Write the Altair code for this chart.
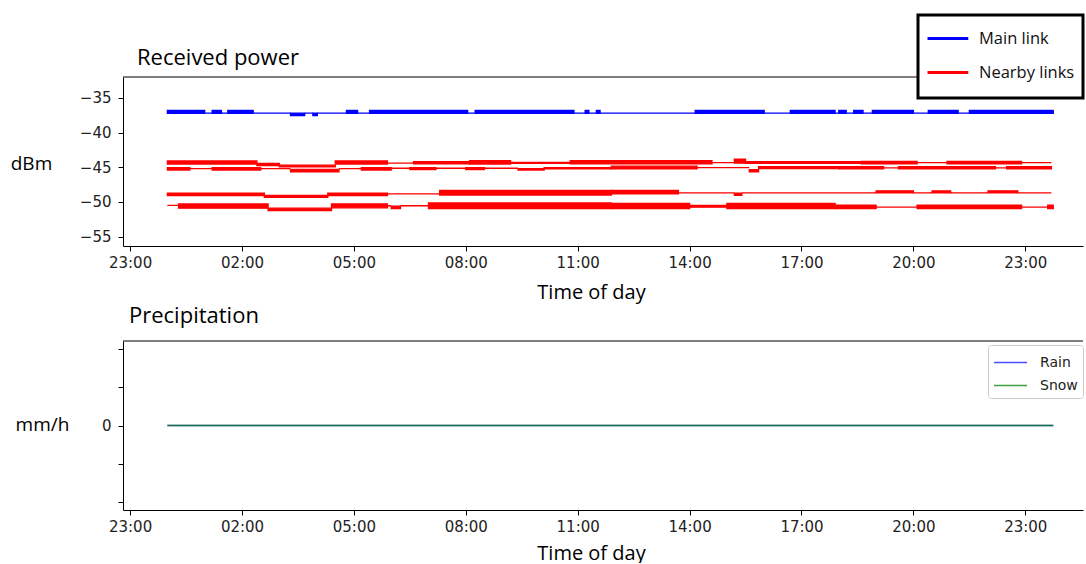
import altair as alt
import pandas as pd

# ---------------- data (hours after midnight, dBm) ----------------
# each entry: [start_hour, end_hour, low_dBm, high_dBm]  (low == high -> steady level)
main_link = [
    [0.00, 1.00, -37.25, -36.80], [1.00, 1.20, -37.20, -37.20], [1.20, 1.45, -37.25, -36.80],
    [1.45, 1.62, -37.20, -37.20], [1.62, 2.30, -37.25, -36.80], [2.30, 3.30, -37.20, -37.20],
    [3.30, 3.68, -37.55, -37.20], [3.68, 3.90, -37.20, -37.20], [3.90, 4.02, -37.55, -37.20],
    [4.02, 4.80, -37.20, -37.20], [4.80, 5.10, -37.25, -36.80], [5.10, 5.42, -37.20, -37.20],
    [5.42, 8.05, -37.25, -36.80], [8.05, 8.25, -37.20, -37.20], [8.25, 10.90, -37.25, -36.80],
    [10.90, 11.20, -37.20, -37.20], [11.20, 11.30, -37.25, -36.80], [11.30, 11.50, -37.20, -37.20],
    [11.50, 11.60, -37.25, -36.80], [11.60, 14.15, -37.20, -37.20], [14.15, 16.00, -37.25, -36.80],
    [16.00, 16.70, -37.20, -37.20], [16.70, 17.90, -37.25, -36.80], [17.90, 18.00, -37.20, -37.20],
    [18.00, 18.20, -37.25, -36.80], [18.20, 18.40, -37.20, -37.20], [18.40, 18.65, -37.25, -36.80],
    [18.65, 18.90, -37.20, -37.20], [18.90, 20.00, -37.25, -36.80], [20.00, 20.40, -37.20, -37.20],
    [20.40, 21.20, -37.25, -36.80], [21.20, 21.50, -37.20, -37.20], [21.50, 23.75, -37.25, -36.80],
]
nearby_1 = [
    [0.00, 2.40, -44.55, -44.10], [2.40, 3.00, -44.75, -44.45], [3.00, 4.50, -44.95, -44.70],
    [4.50, 5.90, -44.55, -44.10], [5.90, 6.60, -44.40, -44.40], [6.60, 8.10, -44.50, -44.20],
    [8.10, 9.20, -44.55, -44.05], [9.20, 10.80, -44.45, -44.30], [10.80, 14.60, -44.50, -44.05],
    [14.60, 15.20, -44.35, -44.35], [15.20, 15.50, -44.40, -43.85], [15.50, 18.60, -44.45, -44.20],
    [18.60, 20.10, -44.50, -44.15], [20.10, 20.90, -44.35, -44.35], [20.90, 22.90, -44.50, -44.15],
    [22.90, 23.70, -44.35, -44.35],
]
nearby_2 = [
    [0.00, 0.60, -45.40, -45.05], [0.60, 1.20, -45.20, -45.20], [1.20, 2.50, -45.40, -45.05],
    [2.50, 3.30, -45.20, -45.20], [3.30, 4.60, -45.65, -45.30], [4.60, 5.20, -45.20, -45.20],
    [5.20, 6.00, -45.40, -45.05], [6.00, 6.50, -45.15, -45.15], [6.50, 7.20, -45.35, -45.05],
    [7.20, 8.00, -45.15, -45.15], [8.00, 8.50, -45.35, -45.05], [8.50, 9.40, -45.15, -45.15],
    [9.40, 10.10, -45.40, -45.20], [10.10, 11.90, -45.25, -45.05], [11.90, 14.20, -45.25, -44.85],
    [14.20, 15.60, -45.05, -45.05], [15.60, 15.85, -45.65, -45.35], [15.85, 18.00, -45.20, -44.90],
    [18.00, 19.20, -45.25, -44.90], [19.20, 19.60, -45.10, -45.10], [19.60, 22.20, -45.25, -44.90],
    [22.20, 22.50, -45.10, -45.10], [22.50, 23.70, -45.25, -44.90],
]
nearby_3 = [
    [0.00, 2.60, -49.10, -48.75], [2.60, 4.30, -49.35, -49.05], [4.30, 5.90, -49.10, -48.75],
    [5.90, 7.30, -48.85, -48.85], [7.30, 11.90, -49.00, -48.35], [11.90, 13.70, -48.85, -48.35],
    [13.70, 15.20, -48.70, -48.70], [15.20, 15.40, -49.05, -48.75], [15.40, 19.00, -48.70, -48.70],
    [19.00, 20.00, -48.70, -48.40], [20.00, 20.50, -48.70, -48.70], [20.50, 21.00, -48.70, -48.40],
    [21.00, 22.00, -48.70, -48.70], [22.00, 22.80, -48.70, -48.40], [22.80, 23.70, -48.70, -48.70],
]
nearby_4 = [
    [0.00, 0.30, -50.50, -50.50], [0.30, 2.70, -50.90, -50.30], [2.70, 4.40, -51.25, -50.90],
    [4.40, 5.90, -50.85, -50.30], [5.90, 6.00, -50.55, -50.55], [6.00, 6.25, -50.95, -50.60],
    [6.25, 7.00, -50.55, -50.55], [7.00, 11.90, -50.95, -50.15], [11.90, 14.00, -50.95, -50.20],
    [14.00, 15.00, -50.75, -50.50], [15.00, 17.90, -50.95, -50.20], [17.90, 19.00, -50.95, -50.45],
    [19.00, 20.10, -50.75, -50.75], [20.10, 22.90, -50.95, -50.45], [22.90, 23.60, -50.75, -50.75],
    [23.60, 23.75, -50.95, -50.45],
]

precip_hours = [0.0, 3.0, 6.0, 9.0, 12.0, 15.0, 18.0, 21.0, 23.75]
rain_mmh = [0, 0, 0, 0, 0, 0, 0, 0, 0]
snow_mmh = [0, 0, 0, 0, 0, 0, 0, 0, 0]

tick_hours = [-1, 2, 5, 8, 11, 14, 17, 20, 23]
power_ticks = [-55, -50, -45, -40, -35]
precip_ticks = [-0.04, -0.02, 0, 0.02, 0.04]

# ---------------- tables ----------------
rows = []
for name, seg_list in [("Main link", main_link), ("Nearby links", nearby_1),
                       ("Nearby links", nearby_2), ("Nearby links", nearby_3),
                       ("Nearby links", nearby_4)]:
    for s, e, lo, hi in seg_list:
        rows.append({"link": name, "t0": s, "t1": e, "lo": lo, "hi": hi})
power = pd.DataFrame(rows)

prows = []
for h, r, s in zip(precip_hours, rain_mmh, snow_mmh):
    prows.append({"hour": h, "kind": "Rain", "mmh": r})
    prows.append({"hour": h, "kind": "Snow", "mmh": s})
precip = pd.DataFrame(prows)

# ---------------- styling ----------------
W = 960
H = 169
X_DOMAIN = [-1.19, -1.19 + W / 37.3]
TITLE_FONT = "Open Sans"
TICK_FONT = "DejaVu Sans"
TICK_SIZE = 15

label_expr = ("(((datum.value % 24) + 24) % 24 < 10 ? '0' : '') + "
              "(((datum.value % 24) + 24) % 24) + ':00'")


def x_axis(title_y):
    return alt.Axis(values=tick_hours, labelExpr=label_expr, title="Time of day",
                    titleFont=TITLE_FONT, titleFontSize=20, titleFontWeight="normal",
                    titleColor="black", titleX=468, titleY=title_y, titleAlign="center",
                    titleBaseline="middle", labelFont=TICK_FONT, labelFontSize=TICK_SIZE,
                    labelColor="#222222", tickColor="black", domainColor="black",
                    tickSize=5, labelPadding=4, grid=False)


def y_axis(values, label_expr_y, title, tx, ty):
    return alt.Axis(values=values, labelExpr=label_expr_y, title=title, titleAngle=0,
                    titleX=tx, titleY=ty, titleAlign="center", titleBaseline="middle",
                    titleFont=TITLE_FONT, titleFontSize=19, titleFontWeight="normal",
                    titleColor="black", labelFont=TICK_FONT, labelFontSize=TICK_SIZE,
                    labelColor="#222222", tickColor="black", domainColor="black",
                    tickSize=5, labelPadding=7, grid=False)


xscale = alt.Scale(domain=X_DOMAIN, nice=False, zero=False)
one_row = alt.Data(values=[{}])

# ---------------- top panel ----------------
color_scale = alt.Scale(domain=["Main link", "Nearby links"], range=["#0000ff", "#ff0000"])
LEG_X = W - 162
LEG_Y = -62
top_legend = alt.Legend(orient="none", legendX=LEG_X, legendY=LEG_Y, title=None,
                        symbolType="M-1,0H1.4", symbolStrokeWidth=3, symbolSize=34 * 34,
                        labelFont=TITLE_FONT, labelFontSize=16.5, labelColor="#111111",
                        labelOffset=16, padding=5, rowPadding=7)

bands = alt.Chart(power).mark_rect(strokeWidth=1.3).encode(
    x=alt.X("t0:Q", scale=xscale, axis=x_axis(46)),
    x2="t1:Q",
    y=alt.Y("lo:Q", scale=alt.Scale(domain=[-56.35, -32.0], nice=False, zero=False),
            axis=y_axis(power_ticks, "replace(datum.label, '-', '\u2212')", "dBm", -92, 86)),
    y2="hi:Q",
    color=alt.Color("link:N", scale=color_scale, legend=top_legend),
    stroke=alt.Stroke("link:N", scale=color_scale, legend=top_legend),
)

top_border = alt.Chart(one_row).mark_rule(color="black", strokeWidth=1).encode(
    x=alt.value(0), x2=alt.value(W), y=alt.value(0))

legend_frame = alt.Chart(one_row).mark_rect(
    fill="white", stroke="black", strokeWidth=3).encode(
    x=alt.value(LEG_X - 3), x2=alt.value(W), y=alt.value(LEG_Y), y2=alt.value(LEG_Y + 83))

top_title = alt.Chart(one_row).mark_text(
    align="left", baseline="alphabetic", font=TITLE_FONT, fontSize=22, color="black").encode(
    x=alt.value(14), y=alt.value(-12), text=alt.value("Received power"))

top = alt.layer(bands, top_border, legend_frame, top_title).properties(width=W, height=H)

# ---------------- bottom panel ----------------
precip_colors = alt.Scale(domain=["Rain", "Snow"], range=["#0000ff", "#008000"])
lines = alt.Chart(precip).mark_line(strokeWidth=1.6).encode(
    x=alt.X("hour:Q", scale=xscale, axis=x_axis(43)),
    y=alt.Y("mmh:Q", scale=alt.Scale(domain=[-0.044, 0.044], nice=False, zero=False),
            axis=y_axis(precip_ticks, "datum.value == 0 ? '0' : ''", "mm/h", -81, 83)),
    color=alt.Color("kind:N", scale=precip_colors,
                    legend=alt.Legend(orient="none", legendX=W - 95, legendY=4, title=None,
                                      symbolType="M-1,0H1.87", symbolSize=23 * 23,
                                      symbolStrokeWidth=1.5, labelFont=TICK_FONT,
                                      labelFontSize=14, labelColor="#222222", labelOffset=22,
                                      strokeColor="#cccccc", cornerRadius=3,
                                      fillColor="white", padding=5, rowPadding=3)),
    opacity=alt.Opacity("kind:N", scale=alt.Scale(domain=["Rain", "Snow"], range=[0.7, 0.75]),
                        legend=None),
    order=alt.Order("kind:N"),
)

bottom_border = alt.Chart(one_row).mark_rule(color="black", strokeWidth=1).encode(
    x=alt.value(0), x2=alt.value(W), y=alt.value(0))

bottom = alt.layer(lines, bottom_border).properties(
    width=W, height=H,
    title=alt.TitleParams("Precipitation", anchor="start", frame="group", font=TITLE_FONT,
                          fontSize=22, fontWeight="normal", color="black", dx=6, offset=13),
)

chart = alt.vconcat(top, bottom, spacing=2).resolve_scale(
    color="independent", stroke="independent", opacity="independent", x="shared"
).configure_view(stroke=None).properties(
    padding={"left": 10, "top": 13, "right": 0, "bottom": 0},
    background="white",
)

chart.save("out.html", embed_options={"renderer": "svg", "actions": False})
